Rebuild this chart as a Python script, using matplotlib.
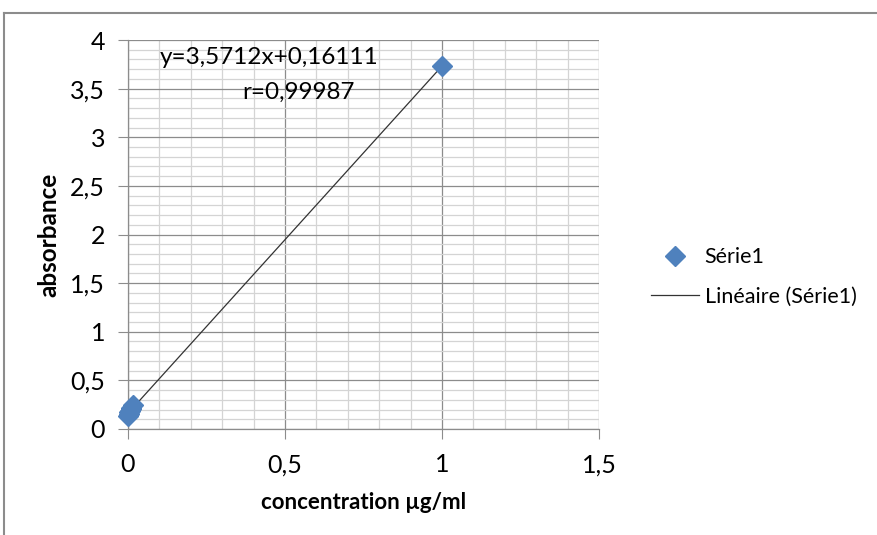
import matplotlib
matplotlib.use("Agg")
import matplotlib.pyplot as plt
from matplotlib.lines import Line2D
from matplotlib.ticker import MultipleLocator, FuncFormatter
import numpy as np

conc = [0.0, 0.002, 0.004, 0.006, 0.008, 0.010, 0.015, 1.0]
absorb = [0.13, 0.15, 0.17, 0.19, 0.21, 0.22, 0.25, 3.73]
slope = 3.5712
intercept = 0.16111
eq_text = "y=3,5712x+0,16111"
r_text = "r=0,99987"
series_name = "Série1"
trend_name = "Linéaire (Série1)"

plt.rcParams['font.family'] = ['Lato', 'DejaVu Sans']

fig = plt.figure(figsize=(8.78, 5.35), dpi=100)
ax = fig.add_axes([128/878, 1-429/535, (599-128)/878, (429-40)/535])

ax.set_xlim(0, 1.5)
ax.set_ylim(0, 4)
ax.xaxis.set_major_locator(MultipleLocator(0.5))
ax.xaxis.set_minor_locator(MultipleLocator(0.1))
ax.yaxis.set_major_locator(MultipleLocator(0.5))
ax.yaxis.set_minor_locator(MultipleLocator(0.1))
fmt = FuncFormatter(lambda v, p: ('%g' % v).replace('.', ','))
ax.xaxis.set_major_formatter(fmt)
ax.yaxis.set_major_formatter(fmt)

ax.grid(which='major', color='#8c8c8c', linewidth=0.9)
ax.grid(which='minor', color='#d4d4d4', linewidth=0.9)
ax.set_axisbelow(True)
for s in ['top', 'right']:
    ax.spines[s].set_visible(False)
for s in ['left', 'bottom']:
    ax.spines[s].set_color('#8c8c8c')
    ax.spines[s].set_linewidth(0.9)
ax.tick_params(which='major', length=7.5, color='#8c8c8c', labelsize=18)
ax.tick_params(which='minor', length=0)
ax.tick_params(axis='x', pad=10)
ax.tick_params(axis='y', pad=9)

xf = np.array([0.0, 1.0])
tl, = ax.plot(xf, slope*xf + intercept, color='#333333', linewidth=0.9, zorder=3)
sc, = ax.plot(conc, absorb, linestyle='none', marker='D', markersize=10,
              color='#4f81bd', markeredgecolor='#4f81bd', zorder=4, clip_on=False)

ax.text(0.102, 3.815, eq_text, fontsize=17.5, va='center', ha='left')
ax.text(0.723, 3.465, r_text, fontsize=17.5, va='center', ha='right')

ax.set_xlabel("concentration µg/ml", fontsize=16, fontweight='bold', labelpad=11)
ax.set_ylabel("absorbance", fontsize=17.5, fontweight='bold', labelpad=7)

fig.legend([sc, tl], [series_name, trend_name], loc='center left',
           bbox_to_anchor=(640/878, 1-277/535), frameon=False, fontsize=15.5,
           handlelength=2.25, labelspacing=0.9, handletextpad=0.25, borderpad=0)

fig.add_artist(Line2D([4.5/878, 4.5/878], [0, 1-13/535], transform=fig.transFigure,
                      color='#8c8c8c', linewidth=1.5))
fig.add_artist(Line2D([4.5/878, 1], [1-13/535, 1-13/535], transform=fig.transFigure,
                      color='#8c8c8c', linewidth=1.5))

fig.savefig("out.png", dpi=100)
